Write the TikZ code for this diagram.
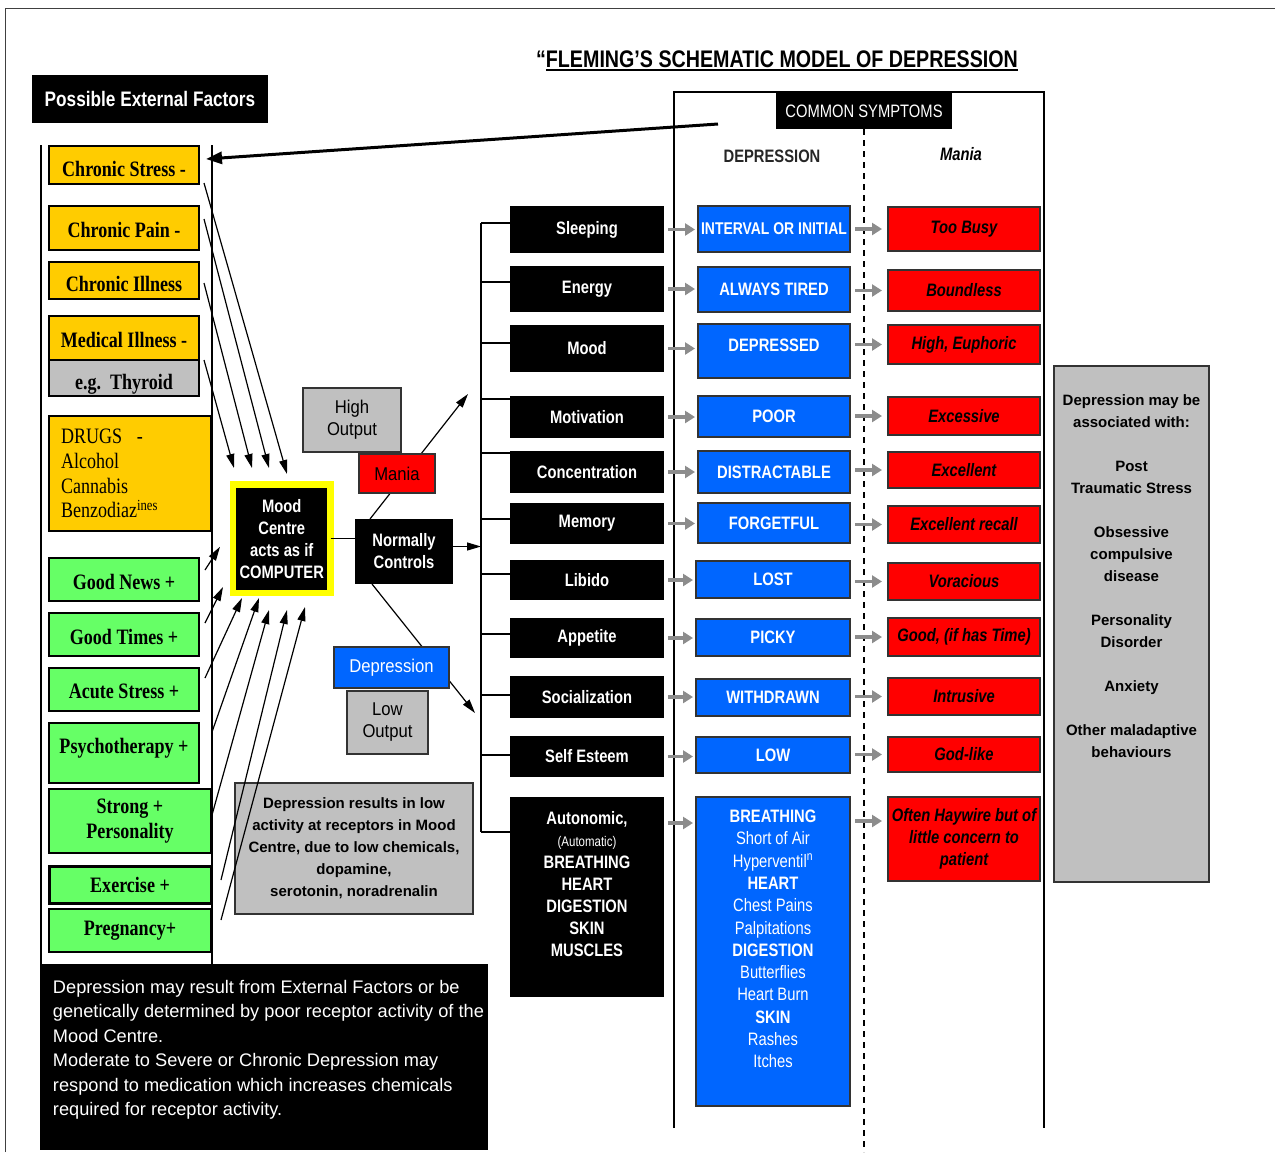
\documentclass[tikz,border=0pt]{standalone}
\usepackage{fontspec}
\setmainfont{Liberation Sans}
\newfontfamily\narrowsans[FakeStretch=0.82]{Liberation Sans}
\newfontfamily\semisans[FakeStretch=0.9]{Liberation Sans}
\newfontfamily\narrowserif[FakeStretch=0.82]{Liberation Serif}
\usetikzlibrary{arrows.meta,calc}
\definecolor{yel}{HTML}{FFCC00}
\definecolor{grn}{HTML}{66FF66}
\definecolor{gry}{HTML}{C0C0C0}
\definecolor{blu}{HTML}{0066FF}
\definecolor{rd}{HTML}{FF0000}
\definecolor{ybord}{HTML}{FFFF00}
\definecolor{arrgray}{HTML}{8C8C8C}
\newcommand\fs[2]{\fontsize{#1}{#2}\selectfont}
\newcommand\ulin[1]{\setbox0\hbox{#1}\rlap{\rule[-3.5pt]{\wd0}{2pt}}\box0}
\newcommand\mv[2]{\raisebox{#1}[\height][\depth]{#2}}
\newcommand\B[7]{\node[#6, minimum width={#4-#2}, minimum height={#5-#3}] (#1) at ({(#2+#4)/2},{(#3+#5)/2}) {#7};}
\begin{document}
\begin{tikzpicture}[x=1pt,y=-1pt,
 base/.style={inner sep=0pt, outer sep=0pt, align=center, line width=1.2pt},
 ybox/.style={base, fill=yel, draw=black, font=\narrowserif\bfseries\fs{22}{25}},
 gnbox/.style={base, fill=grn, draw=black, font=\narrowserif\bfseries\fs{22}{25}},
 tbox/.style={base, fill=gry, draw=black, font=\narrowserif\bfseries\fs{22}{25}},
 sbox/.style={base, fill=black, text=white, font=\narrowsans\bfseries\fs{18}{22}},
 bbox/.style={base, fill=blu, draw=black!80, text=white, font=\narrowsans\bfseries\fs{18}{22}},
 rbox/.style={base, fill=rd, draw=black!80, font=\narrowsans\bfseries\itshape\fs{18}{22}},
 gbox/.style={base, fill=gry, draw=black!80, font=\bfseries\fs{15}{22}},
 obox/.style={base, fill=gry, draw=black!80, font=\semisans\fs{18.5}{22}},
 arr/.style={-{Triangle[length=14pt,width=8pt]}, line width=1.2pt},
 garr/.style={-{Triangle[length=10pt,width=12pt]}, line width=3.5pt, draw=arrgray},
]
\useasboundingbox (0,0) rectangle (1275,1152);
\fill[white] (0,0) rectangle (1275,1152);
\draw[line width=1pt, black!75] (5,1152) -- (5,8) -- (1275,8);

% title
\node[inner sep=0pt, font=\narrowsans\bfseries\fs{24}{28}] (title) at (777,61) {“\ulin{FLEMING’S SCHEMATIC MODEL OF DEPRESSION}};
\B{pef}{32}{75}{268}{123}{sbox, font=\narrowsans\bfseries\fs{21}{24}}{Possible External Factors}

% left column
\draw[line width=1.2pt] (41,145) -- (41,964);
\draw[line width=1.2pt] (212,145) -- (212,964);
\B{cstress}{49}{146}{199}{184}{ybox}{\mv{-4pt}{Chronic Stress -}}
\B{cpain}{49}{206}{199}{250}{ybox}{\mv{-2pt}{Chronic Pain -}}
\B{cill}{49}{262}{199}{299}{ybox}{\mv{-3pt}{Chronic Illness}}
\B{medill}{49}{316}{199}{360}{ybox}{\mv{-2pt}{Medical Illness -}}
\B{thyroid}{49}{360}{199}{396}{tbox}{\mv{-6pt}{e.g.\ \ Thyroid}}
\node[ybox, font=\narrowserif\fs{22}{24.7}, align=left, text width=138pt, inner xsep=12pt, minimum height=115pt] (drugs) at (130,473.5) {DRUGS\ \ -\\Alcohol\\Cannabis\\Benzodiaz\textsuperscript{ines}};
\B{gnews}{49}{558}{199}{601}{gnbox}{\mv{-2pt}{Good News +}}
\B{gtimes}{49}{613}{199}{656}{gnbox}{\mv{-2pt}{Good Times +}}
\B{astress}{49}{668}{199}{711}{gnbox}{\mv{-2pt}{Acute Stress +}}
\B{psych}{49}{723}{199}{783}{gnbox}{\mv{5pt}{Psychotherapy +}}
\B{strong}{49}{789}{211}{853}{gnbox}{Strong +\\Personality}
\B{exer}{49}{866}{211}{903}{gnbox, line width=3pt}{Exercise +}
\B{preg}{49}{909}{211}{952}{gnbox}{Pregnancy+}

% mood centre
\node[sbox, draw=ybord, line width=6.5pt, minimum width=97.5, minimum height=108.5] (mood) at (281.75,538.75) {Mood\\Centre\\acts as if\\COMPUTER};

% gray note
\B{note}{235}{783}{473}{914}{gbox}{Depression results in low\\activity at receptors in Mood\\Centre, due to low chemicals,\\dopamine,\\serotonin, noradrenalin}

% arrows into mood centre (top)
\draw[arr] ($(cstress.south east)+(5,-1)$) -- ($(mood.north west)+(54,-10.5)$);
\draw[arr] ($(cpain.north east)+(5,13)$) -- ($(mood.north west)+(36,-16.5)$);
\draw[arr] ($(cill.east)+(5,2.5)$) -- ($(mood.north west)+(19,-16.5)$);
\draw[arr] ($(medill.south east)+(5,0)$) -- ($(mood.north west)+(1,-16.5)$);
% arrows into mood centre (bottom)
\draw[arr] ($(gnews.east)+(6,-9.5)$) -- ($(mood.west)+(-13,8)$);
\draw[arr] ($(gtimes.east)+(6,-11.5)$) -- ($(mood.south west)+(-10,-6)$);
\draw[arr] ($(astress.east)+(6,-11.5)$) -- ($(mood.south west)+(9,5)$);
\draw[arr] ($(psych.east)+(13,-21)$) -- ($(mood.south west)+(26,5)$);
\draw[arr] ($(strong.east)+(1,-6)$) -- ($(mood.south west)+(36,17)$);
\draw[arr] ($(exer.east)+(10,-4.5)$) -- ($(mood.south west)+(54,17)$);
\draw[arr] ($(preg.east)+(10,-10.5)$) -- ($(mood.south west)+(72,14)$);

% normally controls and branches
\B{nc}{355}{519}{453}{584}{sbox}{Normally\\Controls}
\draw[line width=1.2pt] (mood.east) -- (mood.east -| nc.west);
\draw[arr] ($(nc.north west)+(15,0)$) -- ++(98,-125);
\draw[arr] ($(nc.south west)+(17,0)$) -- ++(103,129);
\B{high}{303}{388}{401}{452}{obox}{High\\Output}
\B{mania}{359}{454}{435}{493}{obox, fill=rd}{Mania}
\B{dep}{334}{647}{449}{688}{obox, fill=blu, text=white}{Depression}
\B{low}{347}{691}{428}{754}{obox}{Low\\Output}

% bottom black box
\node[sbox, font=\fs{18.2}{24.5}, minimum width=448, minimum height=186] (bottom) at (264,1057) {\hspace*{12pt}\parbox[c][186pt][t]{434pt}{\raggedright\vspace*{16pt}Depression may result from External Factors or be\\genetically determined by poor receptor activity of the\\Mood Centre.\\Moderate to Severe or Chronic Depression may\\respond to medication which increases chemicals\\required for receptor activity.}};

% common symptoms frame
\draw[line width=1.2pt] (674,1128) -- (674,92) -- (1044,92) -- (1044,1128);
\B{cs}{776}{93}{952}{129}{sbox, font=\narrowsans\fs{18}{22}}{COMMON SYMPTOMS}
\draw[line width=1.5pt, dash pattern=on 6pt off 5pt] (cs.south) -- (cs.south |- 0,1152);
\node[font=\narrowsans\bfseries\fs{18}{22}, text=black!85] (hdep) at (772,156) {DEPRESSION};
\node[font=\narrowsans\bfseries\itshape\fs{18}{22}] (hman) at (961,154) {Mania};
\coordinate (csfrom) at (718,124);
\draw[line width=3pt, -{Triangle[length=16pt,width=12pt]}] (csfrom) -- ($(cstress.east)+(7,-6)$);

% symptom boxes
\B{sleep}{510}{206}{664}{253}{sbox}{Sleeping}
\B{energy}{510}{266}{664}{312}{sbox}{Energy}
\B{smood}{510}{325}{664}{372}{sbox}{Mood}
\B{motiv}{510}{396}{664}{438}{sbox}{Motivation}
\B{conc}{510}{451}{664}{493}{sbox}{Concentration}
\B{memory}{510}{503}{664}{544}{sbox}{Memory}
\B{libido}{510}{560}{664}{600}{sbox}{Libido}
\B{appet}{510}{618}{664}{658}{sbox}{Appetite}
\B{social}{510}{676}{664}{718}{sbox}{Socialization}
\B{esteem}{510}{736}{664}{777}{sbox}{Self Esteem}
\B{auton}{510}{797}{664}{997}{sbox}{\parbox[c][200pt][t]{154pt}{\centering\vspace*{14pt}Autonomic,\\{\mdseries\fs{14}{20}(Automatic)}\\BREATHING\\HEART\\DIGESTION\\SKIN\\MUSCLES}}

% bracket
\coordinate (brx) at (481,0);
\foreach \n/\o in {sleep/6.5,energy/7,smood/5.5,motiv/18,conc/19,memory/4.5,libido/6,appet/4,social/2,esteem/1.5,auton/65}{
  \draw[line width=1.2pt] ([yshift=\o pt]\n.west) -- ([yshift=\o pt]\n.west -| brx);
}
\draw[line width=1.2pt] ([yshift=6.5pt]sleep.west -| brx) -- ([yshift=65pt]auton.west -| brx);
\draw[arr] ([yshift=5pt]nc.east) -- ([yshift=5pt]nc.east -| brx);

% blue boxes
\B{b1}{698}{206}{850}{252}{bbox, font=\narrowsans\bfseries\fs{17}{22}}{INTERVAL OR INITIAL}
\B{b2}{698}{267}{850}{312}{bbox}{ALWAYS TIRED}
\B{b3}{698}{324}{850}{378}{bbox}{\mv{6pt}{DEPRESSED}}
\B{b4}{698}{396}{850}{437}{bbox}{POOR}
\B{b5}{698}{451}{850}{493}{bbox}{DISTRACTABLE}
\B{b6}{698}{503}{850}{543}{bbox}{FORGETFUL}
\B{b7}{696}{561}{850}{598}{bbox}{LOST}
\B{b8}{696}{619}{850}{656}{bbox}{PICKY}
\B{b9}{696}{679}{850}{716}{bbox}{WITHDRAWN}
\B{b10}{696}{737}{850}{773}{bbox}{LOW}
\B{b11}{696}{797}{850}{1106}{bbox}{\parbox[c][309pt][t]{154pt}{\centering\fs{18}{22.3}\vspace*{13pt}BREATHING\\{\mdseries Short of Air}\\{\mdseries Hyperventil\textsuperscript{n}}\\HEART\\{\mdseries Chest Pains}\\{\mdseries Palpitations}\\DIGESTION\\{\mdseries Butterflies}\\{\mdseries Heart Burn}\\SKIN\\{\mdseries Rashes}\\{\mdseries Itches}}}

% red boxes
\B{r1}{888}{207}{1040}{251}{rbox}{Too Busy}
\B{r2}{888}{270}{1040}{311}{rbox}{Boundless}
\B{r3}{888}{325}{1040}{364}{rbox}{High, Euphoric}
\B{r4}{888}{397}{1040}{435}{rbox}{Excessive}
\B{r5}{888}{452}{1040}{488}{rbox}{Excellent}
\B{r6}{888}{506}{1040}{543}{rbox}{Excellent recall}
\B{r7}{888}{563}{1040}{600}{rbox}{Voracious}
\B{r8}{888}{618}{1040}{656}{rbox}{Good, (if has Time)}
\B{r9}{888}{678}{1040}{715}{rbox}{Intrusive}
\B{r10}{888}{737}{1040}{772}{rbox}{God-like}
\B{r11}{888}{797}{1040}{881}{rbox}{Often Haywire but of\\little concern to\\patient}

% gray arrows
\foreach \a/\b in {sleep/b1,energy/b2,smood/b3,motiv/b4,conc/b5,memory/b6,libido/b7,appet/b8,social/b9,esteem/b10}{
  \draw[garr] ([xshift=4pt]\a.east) -- ([xshift=-3pt]\a.east -| \b.west);
}
\foreach \a/\b in {b1/r1,b2/r2,b3/r3,b4/r4,b5/r5,b6/r6,b7/r7,b8/r8,b9/r9,b10/r10}{
  \draw[garr] ([xshift=5pt]\a.east |- \b.west) -- ([xshift=-6pt]\b.west);
}
\draw[garr] ($(auton.east)+(4,-74)$) -- ($(auton.east -| b11.west)+(-3,-74)$);
\draw[garr] ($(b11.east)+(5,-130.5)$) -- ($(b11.east -| r11.west)+(-6,-130.5)$);

% right gray box
\B{assoc}{1054}{366}{1209}{882}{gbox}{\parbox[c][516pt][t]{155pt}{\centering\vspace*{29pt}Depression may be\\associated with:\\[22pt]Post\\Traumatic Stress\\[22pt]Obsessive\\compulsive\\disease\\[22pt]Personality\\Disorder\\[22pt]Anxiety\\[22pt]Other maladaptive\\behaviours}}
\end{tikzpicture}
\end{document}
